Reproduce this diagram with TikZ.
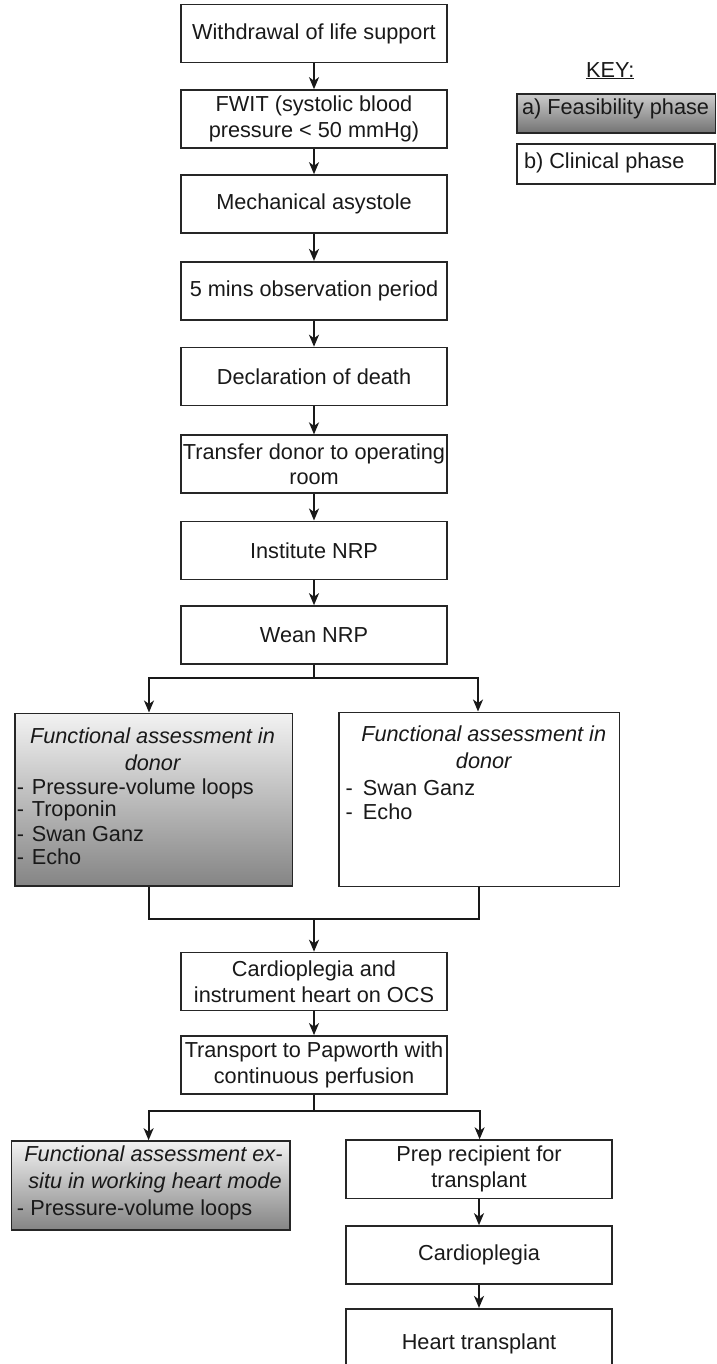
\documentclass[tikz,border=0pt]{standalone}
\usepackage{fontspec}
\setmainfont{Liberation Sans}
\usetikzlibrary{arrows.meta}
\newcommand{\fsz}{\fontsize{21.7}{25.7}\selectfont}
\tikzset{
  every node/.style={font=\fsz, text=black!90},
  box/.style={draw=black!85, line width=1.6pt, fill=white, minimum width=266pt, minimum height=58pt, align=center, inner sep=1pt},
  graybox/.style={draw=black!85, line width=1.6pt, top color=black!5, bottom color=black!48, inner sep=0pt},
  keygray/.style={draw=black!85, line width=1.6pt, top color=black!20, bottom color=black!55, inner sep=0pt},
  plainbox/.style={draw=black!85, line width=1.6pt, fill=white, inner sep=0pt},
  txt/.style={inner sep=0pt, anchor=base},
  txtl/.style={inner sep=0pt, anchor=base west},
  ln/.style={line width=1.8pt, draw=black!90},
  arr/.style={ln, -{Stealth[length=12pt,width=10pt,inset=3.5pt]}}
}
\begin{document}
\begin{tikzpicture}[x=1pt,y=-1pt]
\useasboundingbox (0,0) rectangle (716,1364);
\clip (0,0) rectangle (716,1364);
\fill[white] (0,0) rectangle (716,1364);

% main chain
\node[box] (w1) at (314,33.7) {Withdrawal of life support};
\node[box] (w2) at (314,119) {FWIT (systolic blood\\pressure < 50 mmHg)};
\node[box] (w3) at (314,204) {Mechanical asystole};
\node[box] (w4) at (314,290.7) {5 mins observation period};
\node[box] (w5) at (314,376.5) {Declaration of death};
\node[box] (w6) at (314,464.2) {Transfer donor to operating\\room};
\node[box] (w7) at (314,550.3) {Institute NRP};
\node[box] (w8) at (314,635) {Wean NRP};

% key
\node[txt] (keyt) at (610.3,77.3) {\underline{KEY:}};
\node[keygray, minimum width=198.3pt, minimum height=39pt] (ka) at (616.15,113.5) {};
\node[txtl] (kat) at (521.9,115) {a) Feasibility phase};
\node[plainbox, minimum width=197.7pt, minimum height=39.7pt] (kb) at (615.85,164.15) {};
\node[txtl] (kbt) at (523.8,168.3) {b) Clinical phase};

% functional assessment boxes
\node[graybox, minimum width=277.6pt, minimum height=172.4pt] (fal) at (153.8,799.5) {};
\node[txt] (fal1) at (152.5,743.3) {\itshape Functional assessment in};
\node[txt] (fal2) at (152.5,770) {\itshape donor};
\node[txtl] (fal3) at (16.6,794) {\makebox[15pt][l]{-}Pressure-volume loops};
\node[txtl] (fal4) at (16.6,816.7) {\makebox[15pt][l]{-}Troponin};
\node[txtl] (fal5) at (16.6,841) {\makebox[15pt][l]{-}Swan Ganz};
\node[txtl] (fal6) at (16.6,864.3) {\makebox[15pt][l]{-}Echo};

\node[plainbox, minimum width=280.6pt, minimum height=174pt] (far) at (479.3,799.3) {};
\node[txt] (far1) at (483.7,741.7) {\itshape Functional assessment in};
\node[txt] (far2) at (483.7,768.3) {\itshape donor};
\node[txtl] (far3) at (345.3,795) {\makebox[17.5pt][l]{-}Swan Ganz};
\node[txtl] (far4) at (345.3,819.3) {\makebox[17.5pt][l]{-}Echo};

\node[box] (card) at (314,981.5) {Cardioplegia and\\instrument heart on OCS};
\node[box] (trans) at (314,1064.9) {Transport to Papworth with\\continuous perfusion};

% lower part
\node[graybox, minimum width=278.6pt, minimum height=88.7pt] (exs) at (150.7,1185.35) {};
\node[txt] (exs1) at (153.5,1161.7) {\itshape Functional assessment ex-};
\node[txt] (exs2) at (155,1188.3) {\itshape situ in working heart mode};
\node[txtl] (exs3) at (16.7,1215) {\makebox[13.5pt][l]{-}Pressure-volume loops};

\node[box, minimum height=58.3pt] (prep) at (479,1169.2) {Prep recipient for\\transplant};
\node[box] (card2) at (479,1255) {Cardioplegia};
\node[box, minimum height=71.3pt] (heart) at (479,1344.35) {Heart transplant};

% connectors
\draw[arr] (w1.south) -- (w2.north);
\draw[arr] (w2.south) -- (w3.north);
\draw[arr] (w3.south) -- (w4.north);
\draw[arr] (w4.south) -- (w5.north);
\draw[arr] (w5.south) -- (w6.north);
\draw[arr] (w6.south) -- (w7.north);
\draw[arr] (w7.south) -- (w8.north);

\coordinate (sl) at (149,678);
\coordinate (sr) at (478,678);
\draw[arr] (w8.south) |- (sl) -- (sl |- fal.north);
\draw[arr] (w8.south) |- (sr) -- (sr |- far.north);

\coordinate (jl) at (148.6,919);
\coordinate (jr) at (479,919);
\draw[ln] (fal.south -| jl) -- (jl) -- (jr) -- (far.south -| jr);
\coordinate (jm) at (card.north |- jl);
\draw[arr] (jm) -- (card.north);
\draw[arr] (card.south) -- (trans.north);

\coordinate (tl) at (148.6,1110.7);
\coordinate (tr) at (479.6,1110.7);
\draw[arr] (trans.south) |- (tl) -- (tl |- exs.north);
\draw[arr] (trans.south) |- (tr) -- (tr |- prep.north);
\draw[arr] (prep.south) -- (card2.north);
\draw[arr] (card2.south) -- (heart.north);
\end{tikzpicture}
\end{document}
